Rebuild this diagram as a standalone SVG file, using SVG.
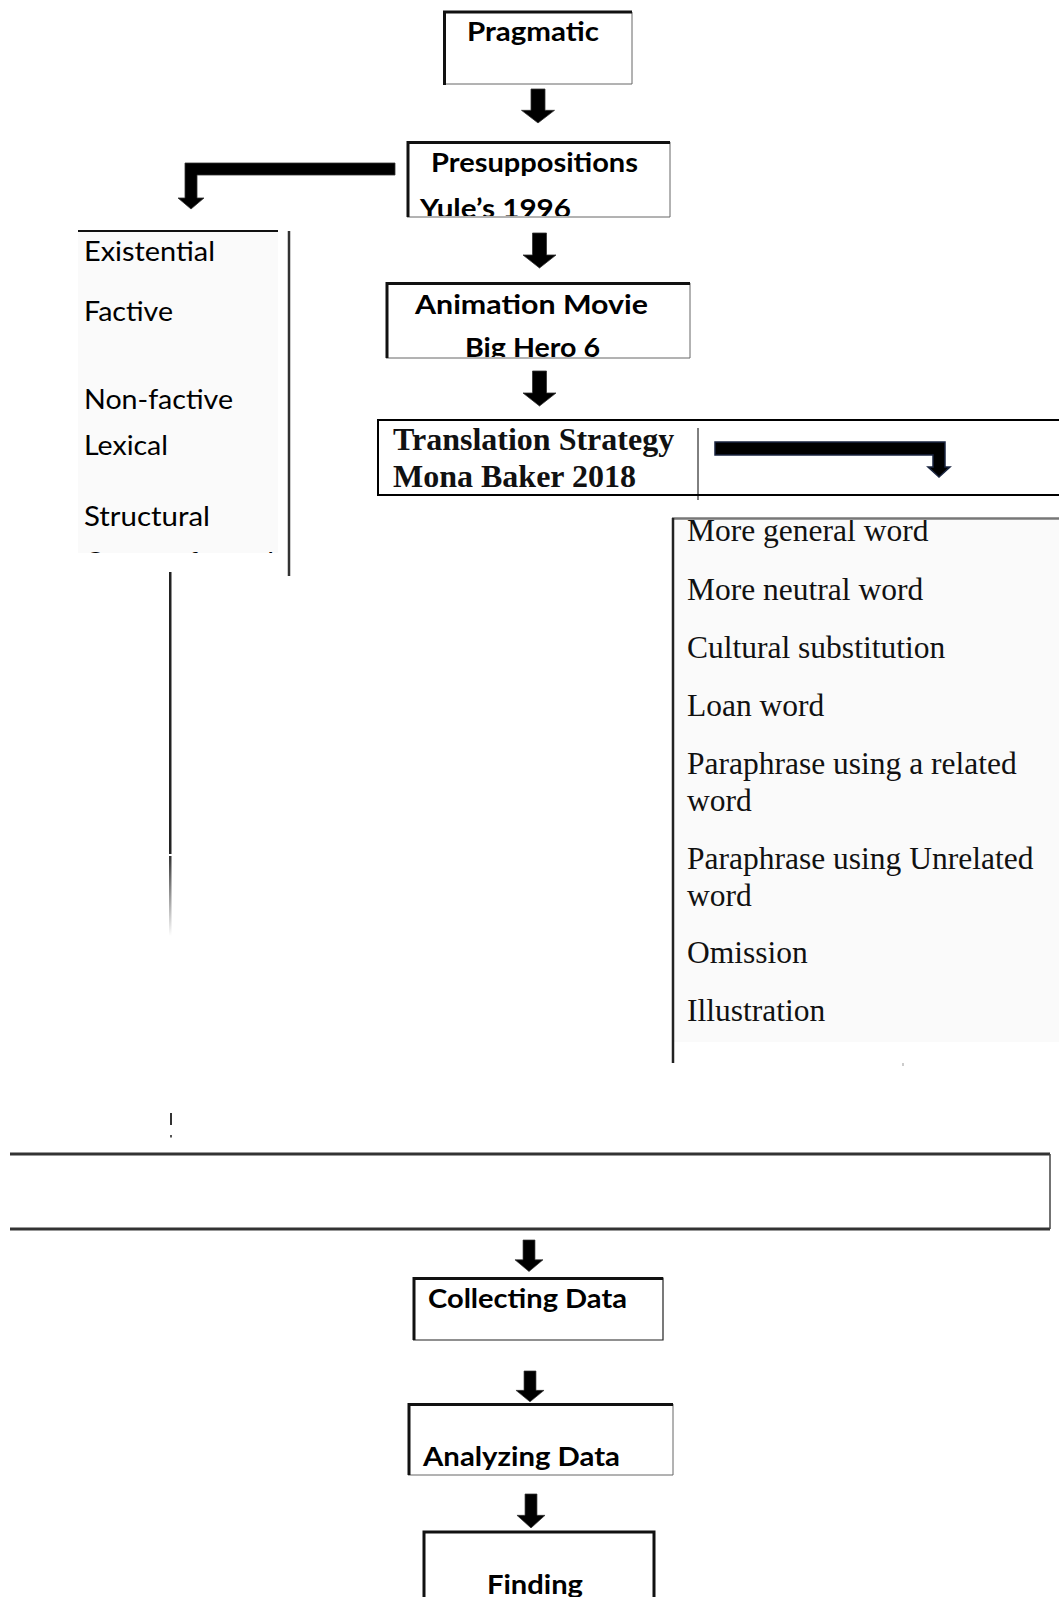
<svg xmlns="http://www.w3.org/2000/svg" width="1059" height="1597" viewBox="0 0 1059 1597">
<defs>
<style>
.cb{font-family:Lato,"Open Sans","Liberation Sans",sans-serif;font-weight:bold;font-size:26px;fill:#000}
.cr{font-family:Lato,"Open Sans","Liberation Sans",sans-serif;font-size:26px;fill:#000}
.tb{font-family:"Liberation Serif","Times New Roman",serif;font-weight:bold;font-size:32px;fill:#111}
.tr{font-family:"Liberation Serif","Times New Roman",serif;font-size:31.5px;fill:#111}
.thin{stroke:#666;stroke-width:1;fill:none}
.thick{stroke:#111;stroke-width:3;fill:none}
.arr{fill:#000;stroke:#333;stroke-width:0.8}
</style>
<path id="dn" d="M-7,0 H7 V22 H16.5 L0,35 L-16.5,22 H-7 Z"/>
<clipPath id="cYule"><rect x="400" y="175" width="270" height="41"/></clipPath>
<clipPath id="cBig"><rect x="380" y="320" width="300" height="37"/></clipPath>
<clipPath id="cCounter"><rect x="78" y="530" width="200" height="23"/></clipPath>
<clipPath id="cMore"><rect x="674" y="520" width="385" height="40"/></clipPath>
<linearGradient id="fade" x1="0" y1="0" x2="0" y2="1">
<stop offset="0" stop-color="#333"/>
<stop offset="1" stop-color="#fff"/>
</linearGradient>
</defs>
<rect width="1059" height="1597" fill="#fff"/>

<g id="connectors">
<use href="#dn" class="arr" transform="translate(538,89) scale(1,0.97)"/>
<use href="#dn" class="arr" transform="translate(539.5,233)"/>
<use href="#dn" class="arr" transform="translate(539.5,371)"/>
<path class="arr" d="M395,163 L185,163 L185,198 L178,198 L191,209 L204,198 L197,198 L197,175 L395,175 Z"/>
<path d="M715,442 L945,442 L945,467 L950,467 L939,477 L928,467 L933,467 L933,455 L715,455 Z" fill="#000" stroke="#1a2540" stroke-width="1.5"/>
<rect x="169" y="572" width="2.5" height="282" fill="#222"/>
<rect x="169" y="856" width="2.5" height="80" fill="url(#fade)"/>
<rect x="170" y="1113" width="2" height="12" fill="#333"/>
<rect x="170" y="1135" width="2" height="2.5" fill="#555"/>
<rect x="902" y="1063" width="2" height="3" fill="#ccc"/>
<use href="#dn" class="arr" transform="translate(529,1240) scale(0.85,0.9)"/>
<use href="#dn" class="arr" transform="translate(530,1371) scale(0.85,0.88)"/>
<use href="#dn" class="arr" transform="translate(531,1494) scale(0.85,0.97)"/>
</g>

<g id="pragmatic">
<path class="thin" d="M444,12 H632 V84 H444"/>
<path class="thick" d="M444.5,85 V12 H632"/>
<text class="cb" x="467" y="41" textLength="132" lengthAdjust="spacingAndGlyphs">Pragmatic</text>
</g>

<g id="presuppositions">
<path class="thin" d="M407,142 H670 V217 H407"/>
<path class="thick" d="M408,217 V142.5 H670"/>
<text class="cb" x="431" y="172" textLength="207" lengthAdjust="spacingAndGlyphs">Presuppositions</text>
<text class="cb" x="420" y="217.5" textLength="151" lengthAdjust="spacingAndGlyphs" clip-path="url(#cYule)">Yule’s 1996</text>
</g>

<g id="presupposition-types">
<rect x="78" y="232" width="200" height="321" fill="#fafafa"/>
<line x1="78" y1="231" x2="278" y2="231" stroke="#111" stroke-width="2"/>
<line x1="289" y1="231" x2="289" y2="576" stroke="#333" stroke-width="2.5"/>
<text class="cr" x="84" y="261" textLength="131" lengthAdjust="spacingAndGlyphs">Existential</text>
<text class="cr" x="84" y="321" textLength="89" lengthAdjust="spacingAndGlyphs">Factive</text>
<text class="cr" x="84" y="409" textLength="149" lengthAdjust="spacingAndGlyphs">Non-factive</text>
<text class="cr" x="84" y="455" textLength="84" lengthAdjust="spacingAndGlyphs">Lexical</text>
<text class="cr" x="84" y="526" textLength="126" lengthAdjust="spacingAndGlyphs">Structural</text>
<text class="cr" x="84" y="572" textLength="190" lengthAdjust="spacingAndGlyphs" clip-path="url(#cCounter)">Counterfactual</text>
</g>

<g id="animation-movie">
<path class="thin" d="M386,283 H690 V358 H386"/>
<path class="thick" d="M387,358 V283.5 H690"/>
<text class="cb" x="415" y="314" textLength="233" lengthAdjust="spacingAndGlyphs">Animation Movie</text>
<text class="cb" x="465" y="356.5" textLength="135" lengthAdjust="spacingAndGlyphs" clip-path="url(#cBig)">Big Hero 6</text>
</g>

<g id="translation-strategy">
<path d="M1059,420 H378 V495 H1059" fill="none" stroke="#000" stroke-width="2"/>
<line x1="698" y1="428" x2="698" y2="500" stroke="#000" stroke-width="1"/>
<text class="tb" x="393" y="450">Translation Strategy</text>
<text class="tb" x="393" y="487">Mona Baker 2018</text>
</g>

<g id="strategy-list">
<rect x="674" y="520" width="385" height="522" fill="#fafafa"/>
<line x1="672" y1="518.5" x2="1059" y2="518.5" stroke="#777" stroke-width="2.5"/>
<line x1="673" y1="518" x2="673" y2="1063" stroke="#222" stroke-width="2.5"/>
<text class="tr" x="687" y="541" clip-path="url(#cMore)">More general word</text>
<text class="tr" x="687" y="600">More neutral word</text>
<text class="tr" x="687" y="658">Cultural substitution</text>
<text class="tr" x="687" y="716">Loan word</text>
<text class="tr" x="687" y="774">Paraphrase using a related</text>
<text class="tr" x="687" y="811">word</text>
<text class="tr" x="687" y="869">Paraphrase using Unrelated</text>
<text class="tr" x="687" y="906">word</text>
<text class="tr" x="687" y="963">Omission</text>
<text class="tr" x="687" y="1021">Illustration</text>
</g>

<g id="empty-box">
<line x1="10" y1="1154" x2="1050" y2="1154" stroke="#333" stroke-width="3"/>
<line x1="10" y1="1229" x2="1050" y2="1229" stroke="#333" stroke-width="3"/>
<line x1="1050" y1="1154" x2="1050" y2="1229" stroke="#444" stroke-width="1.5"/>
</g>

<g id="collecting-data">
<path d="M413,1278 H663 V1340 H413" fill="none" stroke="#222" stroke-width="1.2"/>
<path class="thick" d="M414,1340 V1278.5 H663"/>
<text class="cb" x="428" y="1308" textLength="199" lengthAdjust="spacingAndGlyphs">Collecting Data</text>
</g>

<g id="analyzing-data">
<path class="thin" d="M408,1404 H673 V1475 H408"/>
<path class="thick" d="M409,1475 V1404.5 H673"/>
<text class="cb" x="423" y="1466" textLength="197" lengthAdjust="spacingAndGlyphs">Analyzing Data</text>
</g>

<g id="finding">
<path class="thick" d="M424,1597 V1532 H654 V1597"/>
<text class="cb" x="487" y="1594" textLength="96" lengthAdjust="spacingAndGlyphs">Finding</text>
</g>
</svg>
